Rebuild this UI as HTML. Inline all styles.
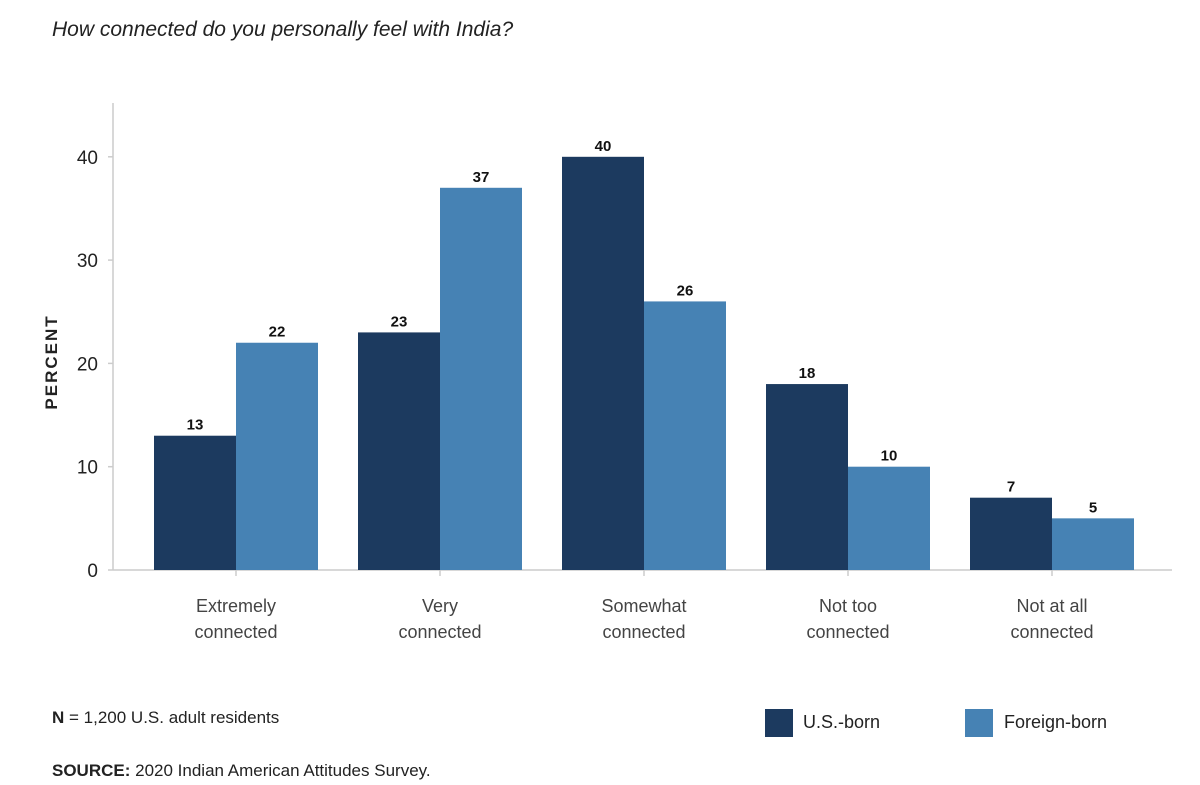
<!DOCTYPE html>
<html><head><meta charset="utf-8"><style>
body{margin:0;background:#fff;}
svg{display:block;font-family:"Liberation Sans",sans-serif;}
</style></head><body>
<svg id="chart" width="1200" height="785" viewBox="0 0 1200 785">
<text x="52" y="36" font-size="21" font-style="italic" fill="#222">How connected do you personally feel with India?</text>
<g id="axes"></g>
<g id="bars"></g>
<text transform="translate(57,362) rotate(-90)" text-anchor="middle" font-size="17" font-weight="bold" letter-spacing="2" fill="#222">PERCENT</text>
<text x="52" y="723" font-size="17" fill="#222"><tspan font-weight="bold">N</tspan> = 1,200 U.S. adult residents</text>
<text x="52" y="776" font-size="17" fill="#222"><tspan font-weight="bold">SOURCE:</tspan> 2020 Indian American Attitudes Survey.</text>
<rect x="765" y="709" width="28" height="28" fill="#1c3a5f"/>
<text x="803" y="728" font-size="18" fill="#222">U.S.-born</text>
<rect x="965" y="709" width="28" height="28" fill="#4682b4"/>
<text x="1004" y="728" font-size="18" fill="#222">Foreign-born</text>
</svg>
<script>
const categories=[["Extremely","connected"],["Very","connected"],["Somewhat","connected"],["Not too","connected"],["Not at all","connected"]];
const usBorn=[13,23,40,18,7];
const foreignBorn=[22,37,26,10,5];
const yTicks=[0,10,20,30,40];
const NS="http://www.w3.org/2000/svg";
const y0=570, pxPer=10.33, left=113, right=1172, gx0=236, gStep=204, bw=82;
function yScale(v){return y0-v*pxPer;}
function xCenter(i){return gx0+i*gStep;}
function mk(tag,attrs,parent){const e=document.createElementNS(NS,tag);for(const k in attrs)e.setAttribute(k,attrs[k]);parent.appendChild(e);return e;}
const axes=document.getElementById('axes'), bars=document.getElementById('bars');
let yl=mk('line',{x1:left,y1:103,x2:left,y2:y0,stroke:'#ccc','stroke-width':1.5},axes);


let xl=mk('line',{x1:left,y1:y0,x2:right,y2:y0,stroke:'#ccc','stroke-width':1.5},axes);


yTicks.forEach(t=>{
  const y=yScale(t);
  mk('line',{x1:left-5,y1:y,x2:left,y2:y,stroke:'#ccc','stroke-width':1.5},axes);
  const tx=mk('text',{x:98,y:y+7,'text-anchor':'end','font-size':19,fill:'#222'},axes);
  tx.textContent=t;
  
  
});
categories.forEach((c,i)=>{
  const cx=xCenter(i);
  mk('line',{x1:cx,y1:y0,x2:cx,y2:y0+6,stroke:'#ccc','stroke-width':1.5},axes);
  c.forEach((ln,j)=>{
    const tx=mk('text',{x:cx,y:612+j*26,'text-anchor':'middle','font-size':18,fill:'#444'},axes);
    tx.textContent=ln;
    
    
  });
  [[usBorn[i],cx-bw,'#1c3a5f','bar-us-born'],[foreignBorn[i],cx,'#4682b4','bar-foreign-born']].forEach(([v,x,col,nm])=>{
    const r=mk('rect',{x:x,y:yScale(v),width:bw,height:y0-yScale(v),fill:col},bars);
    
    
    const lb=mk('text',{x:x+bw/2,y:yScale(v)-6,'text-anchor':'middle','font-size':15,'font-weight':'bold',fill:'#111'},bars);
    lb.textContent=v;
    
    
  });
});
</script>
</body></html>
